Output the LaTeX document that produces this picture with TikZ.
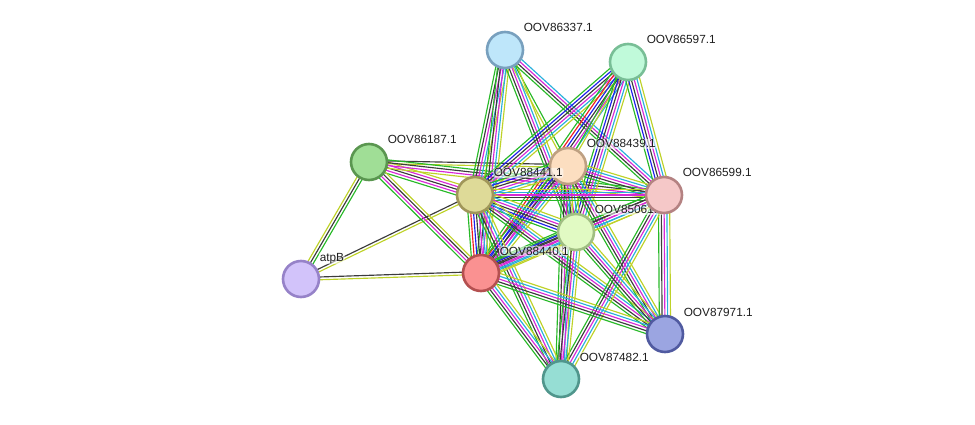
\documentclass[tikz,border=0pt]{standalone}
\usepackage{fontspec}
\setmainfont{Liberation Sans}
\usetikzlibrary{calc}
\pgfdeclarelayer{bg}
\pgfsetlayers{bg,main}
\definecolor{eG}{RGB}{40,185,40}
\definecolor{eR}{RGB}{240,30,30}
\definecolor{eB}{RGB}{30,30,235}
\definecolor{eK}{RGB}{60,60,60}
\definecolor{eM}{RGB}{215,40,215}
\definecolor{eC}{RGB}{40,175,220}
\definecolor{eY}{RGB}{190,210,40}
\newcommand\bund[3]{%
  \foreach \cc [count=\ii] in {#3} {\xdef\bn{\ii}}%
  \foreach \cc [count=\ii] in {#3} {%
    \pgfmathsetmacro\off{(\ii-(\bn+1)/2)*2.8}%
    \draw[edge,draw=\cc] ($(#1)!\off pt!90:(#2)$) -- ($(#2)!\off pt!-90:(#1)$);
  }}
\tikzset{
  nd/.style={circle,minimum size=36pt,inner sep=0pt,line width=2.6pt},
  lbl/.style={anchor=base west,inner xsep=0.6pt,inner ysep=0.8pt,font=\fontsize{11.8pt}{14pt}\selectfont,text=black!88,fill=white,fill opacity=0.55,text opacity=1,rounded corners=2pt},
  edge/.style={line width=1.15pt}
}
\begin{document}
\begin{tikzpicture}[x=1pt,y=-1pt]
\useasboundingbox (0,0) rectangle (975,425);
\node[nd,fill={rgb,255:red,190;green,230;blue,250},draw={rgb,255:red,120;green,160;blue,190}] (A) at (505,50) {};
\node[nd,fill={rgb,255:red,192;green,250;blue,218},draw={rgb,255:red,120;green,190;blue,150}] (B) at (628,62) {};
\node[nd,fill={rgb,255:red,252;green,222;blue,192},draw={rgb,255:red,190;green,160;blue,130}] (C) at (568,166) {};
\node[nd,fill={rgb,255:red,160;green,222;blue,150},draw={rgb,255:red,90;green,150;blue,80}] (D) at (369,162) {};
\node[nd,fill={rgb,255:red,222;green,218;blue,152},draw={rgb,255:red,160;green,150;blue,90}] (E) at (475,195) {};
\node[nd,fill={rgb,255:red,225;green,250;blue,195},draw={rgb,255:red,160;green,190;blue,130}] (G) at (576,232) {};
\node[nd,fill={rgb,255:red,210;green,195;blue,250},draw={rgb,255:red,150;green,130;blue,200}] (H) at (301,279) {};
\node[nd,fill={rgb,255:red,250;green,145;blue,145},draw={rgb,255:red,180;green,80;blue,80}] (I) at (481,273) {};
\node[nd,fill={rgb,255:red,155;green,165;blue,225},draw={rgb,255:red,80;green,90;blue,160}] (J) at (665,334) {};
\node[nd,fill={rgb,255:red,150;green,222;blue,212},draw={rgb,255:red,80;green,150;blue,140}] (K) at (561,379) {};
\node[nd,fill={rgb,255:red,245;green,200;blue,200},draw={rgb,255:red,180;green,130;blue,130}] (F) at (664,195) {};
\begin{pgfonlayer}{bg}
\bund{H}{D}{eG,eK,eY}
\bund{H}{E}{eY,eK}
\bund{H}{I}{eY,eK}
\bund{D}{E}{eG,eM,eK,eM,eY}
\bund{D}{I}{eG,eM,eK,eY}
\bund{D}{C}{eY,eK}
\bund{D}{F}{eY,eM,eK,eG}
\bund{A}{E}{eG,eK,eM,eC,eY}
\bund{A}{I}{eG,eK,eM,eC,eY}
\bund{A}{C}{eY,eG}
\bund{A}{G}{eG,eK,eM,eC,eY}
\bund{A}{F}{eG,eK,eM,eC}
\bund{B}{E}{eG,eB,eK,eM,eC,eY}
\bund{B}{I}{eG,eR,eB,eK,eM,eC}
\bund{B}{C}{eG,eY}
\bund{B}{G}{eG,eB,eK,eM,eC,eY}
\bund{B}{F}{eG,eB,eK,eM,eC,eY}
\bund{C}{E}{eG,eB,eK,eM,eC,eY}
\bund{C}{F}{eG,eK,eM,eC,eY}
\bund{C}{G}{eG,eK,eM,eC,eY}
\bund{C}{I}{eG,eB,eK,eM,eC,eY}
\bund{C}{K}{eG,eK,eM,eC,eY}
\bund{C}{J}{eG,eK,eM,eC,eY}
\bund{E}{F}{eG,eK,eM,eC,eY}
\bund{E}{G}{eG,eB,eK,eM,eC,eY}
\bund{E}{I}{eG,eR,eB,eK,eM,eC,eY}
\bund{E}{J}{eG,eK,eM,eC,eY}
\bund{E}{K}{eG,eK,eM,eC,eY}
\bund{F}{G}{eG,eK,eM,eC,eY}
\bund{F}{I}{eG,eK,eM,eC,eY}
\bund{F}{J}{eG,eK,eM,eC,eY}
\bund{F}{K}{eG,eK,eM,eC,eY}
\bund{G}{I}{eG,eB,eK,eM,eC,eY}
\bund{G}{J}{eG,eK,eM,eC,eY}
\bund{G}{K}{eG,eK,eM,eC,eY}
\bund{I}{J}{eG,eK,eM,eC,eY}
\bund{I}{K}{eG,eK,eM,eC,eY}
\node[lbl] (lG) at ($(G)+(18,-18)$) {OOV85061.1};
\end{pgfonlayer}
\node[lbl] (lA) at ($(A)+(18,-18)$) {OOV86337.1};
\node[lbl] (lB) at ($(B)+(18,-18)$) {OOV86597.1};
\node[lbl] (lC) at ($(C)+(18,-18)$) {OOV88439.1};
\node[lbl] (lD) at ($(D)+(18,-18)$) {OOV86187.1};
\node[lbl] (lE) at ($(E)+(18,-18)$) {OOV88441.1};
\node[lbl] (lF) at ($(F)+(18,-18)$) {OOV86599.1};
\node[lbl] (lH) at ($(H)+(18,-18)$) {atpB};
\node[lbl] (lI) at ($(I)+(18,-18)$) {OOV88440.1};
\node[lbl] (lJ) at ($(J)+(18,-18)$) {OOV87971.1};
\node[lbl] (lK) at ($(K)+(18,-18)$) {OOV87482.1};
\end{tikzpicture}
\end{document}
